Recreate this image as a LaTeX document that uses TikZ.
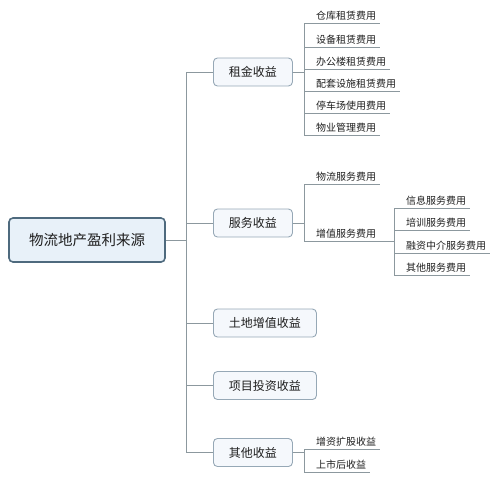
\documentclass[tikz,border=0pt]{standalone}
\usepackage{fontspec}
\setmainfont{Noto Sans CJK SC}
\usepackage{tikz}
\usetikzlibrary{
	arrows.meta,
	positioning
}
\definecolor{lnk}{RGB}{140,152,158}
\definecolor{rootline}{RGB}{78,106,126}
\definecolor{rootfill}{RGB}{232,241,249}
\definecolor{boxline}{RGB}{150,168,182}
\definecolor{boxfill}{RGB}{245,248,252}
\definecolor{txt}{RGB}{30,30,30}

\begin{document}
\begin{tikzpicture}[
			x=1pt, y=-1pt,
			text=txt,
			raiz/.style={draw=rootline, line width=1.6pt, fill=rootfill, rounded corners=4pt, minimum width=156pt, minimum height=44pt, font=\fontsize{14.5}{16}\selectfont},
			ramo/.style={draw=boxline, line width=0.9pt, fill=boxfill, rounded corners=4pt, anchor=west, inner xsep=15.5pt, minimum height=28pt, font=\fontsize{12}{14}\selectfont},
			folha/.style={anchor=south west, inner xsep=4pt, inner ysep=2.5pt, font=\fontsize{10}{12}\selectfont, execute at begin node={\hspace*{8pt}}},
			lig/.style={draw=lnk, line width=0.9pt}
		]

		\useasboundingbox (0,0) rectangle (500,479);

		% raiz e ramos
		\node[raiz] (rt) at (87,240) {物流地产盈利来源};
		\node[ramo] (a1) at (213,72) {租金收益};
		\node[ramo] (a2) at (213,223) {服务收益};
		\node[ramo] (a3) at (213,323) {土地增值收益};
		\node[ramo] (a4) at (213,385.5) {项目投资收益};
		\node[ramo] (a5) at (213,452.5) {其他收益};

		% folhas
		\node[folha] (r1) at (304,23) {仓库租赁费用};
		\node[folha] (r2) at (304,47) {设备租赁费用};
		\node[folha] (r3) at (304,69) {办公楼租赁费用};
		\node[folha] (r4) at (304,91) {配套设施租赁费用};
		\node[folha] (r5) at (304,113) {停车场使用费用};
		\node[folha] (r6) at (304,135) {物业管理费用};

		\node[folha] (s1) at (304,184) {物流服务费用};
		\node[folha] (s2) at (304,241) {增值服务费用};
		\node[folha] (t1) at (394,208) {信息服务费用};
		\node[folha] (t2) at (394,230) {培训服务费用};
		\node[folha] (t3) at (394,253) {融资中介服务费用};
		\node[folha] (t4) at (394,275) {其他服务费用};

		\node[folha] (q1) at (304,449) {增资扩股收益};
		\node[folha] (q2) at (304,472) {上市后收益};

		% ligacoes
		\foreach \b in {a1,a2,a3,a4,a5}
			\draw[lig] (rt.east) -- ++(21,0) |- (\b.west);
		\foreach \f in {r1,r2,r3,r4,r5,r6}
			\draw[lig] (a1.east) -- ++(12,0) |- (\f.south west);
		\foreach \f in {s1,s2}
			\draw[lig] (a2.east) -- ++(12,0) |- (\f.south west);
		\foreach \f in {q1,q2}
			\draw[lig] (a5.east) -- ++(12,0) |- (\f.south west);
		\foreach \f in {t1,t2,t3,t4}
			\draw[lig] (s2.south east) -| (\f.south west);
		\foreach \f in {r1,r2,r3,r4,r5,r6,s1,s2,t1,t2,t3,t4,q1,q2}
			\draw[lig] (\f.south west) -- (\f.south east);
	\end{tikzpicture}
\end{document}
